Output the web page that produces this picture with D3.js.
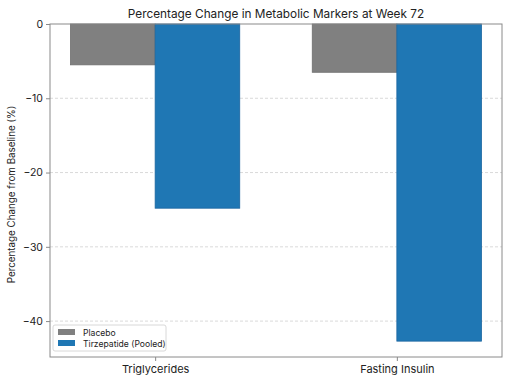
<!DOCTYPE html>
<html>
<head>
<meta charset="utf-8">
<script src="https://cdn.jsdelivr.net/npm/d3@7"></script>
<style>
  body { margin: 0; background: #fff; }
  text { font-family: "Inter", "DejaVu Sans", sans-serif; fill: #222; }
</style>
</head>
<body>
<div id="chart"></div>
<script>
// data
var categories = ["Triglycerides", "Fasting Insulin"];
var seriesNames = ["Placebo", "Tirzepatide (Pooled)"];
var placebo = [-5.5, -6.5];
var tirzepatide = [-24.8, -42.7];
var yTicks = [0, -10, -20, -30, -40];

var width = 512, height = 384;
var margin = { top: 24, right: 10, bottom: 27, left: 50 };
var colors = ["#808080", "#1f77b4"];
var edges = ["#6e6e6e", "#1a65a0"];

var svg = d3.select("#chart").append("svg")
  .attr("width", width)
  .attr("height", height);

var plotW = width - margin.left - margin.right;
var plotH = height - margin.top - margin.bottom;

// x in category units, like matplotlib: bars of width 0.35 at -0.35/+0 offsets
var barW = 0.35;
var xMin = -barW, xMax = categories.length - 1 + barW;
var pad = (xMax - xMin) * 0.05;
var x = d3.scaleLinear().domain([xMin - pad, xMax + pad]).range([margin.left, margin.left + plotW]);

var allVals = placebo.concat(tirzepatide);
var yMin = d3.min(allVals) * 1.05;
var y = d3.scaleLinear().domain([yMin, 0]).range([margin.top + plotH, margin.top]);

// grid
svg.append("g")
  .selectAll("line")
  .data(yTicks.filter(function (d) { return d !== 0; }))
  .enter()
  .append("line")
  .attr("x1", margin.left)
  .attr("x2", margin.left + plotW)
  .attr("y1", function (d) { return y(d); })
  .attr("y2", function (d) { return y(d); })
  .attr("stroke", "#d0d0d0")
  .attr("stroke-width", 0.8)
  .attr("stroke-dasharray", "3,2");

// bars
var series = [placebo, tirzepatide];
series.forEach(function (vals, s) {
  svg.append("g")
    .selectAll("rect")
    .data(vals)
    .enter()
    .append("rect")
    .attr("x", function (d, i) { return x(i - barW + s * barW); })
    .attr("width", x(barW) - x(0))
    .attr("y", y(0))
    .attr("height", function (d) { return y(d) - y(0); })
    .attr("fill", colors[s])
    .attr("stroke", edges[s])
    .attr("stroke-width", 0.8);
});

// frame
svg.append("rect")
  .attr("x", margin.left)
  .attr("y", margin.top)
  .attr("width", plotW)
  .attr("height", plotH)
  .attr("fill", "none")
  .attr("stroke", "#8a8a8a")
  .attr("stroke-width", 1);

// y axis
var yAxis = d3.axisLeft(y).tickValues(yTicks).tickSize(4).tickPadding(3)
  .tickFormat(function (d) { return d === 0 ? "0" : "\u2212" + Math.abs(d); });
var gy = svg.append("g")
  .attr("transform", "translate(" + margin.left + ",0)")
  .call(yAxis);
gy.select(".domain").remove();
gy.selectAll("line").attr("stroke", "#8a8a8a");
gy.selectAll("text").attr("font-size", 10.5).attr("fill", "#222");

// x axis
var xAxis = d3.axisBottom(x).tickValues(d3.range(categories.length)).tickSize(4).tickPadding(4)
  .tickFormat(function (d) { return categories[d]; });
var gx = svg.append("g")
  .attr("transform", "translate(0," + (margin.top + plotH) + ")")
  .call(xAxis);
gx.select(".domain").remove();
gx.selectAll("line").attr("stroke", "#8a8a8a");
gx.selectAll("text").attr("font-size", 11).attr("fill", "#222");

// title
svg.append("text")
  .attr("x", margin.left + plotW / 2)
  .attr("y", 18)
  .attr("text-anchor", "middle")
  .attr("font-size", 11.8)
  .text("Percentage Change in Metabolic Markers at Week 72");

// y label
svg.append("text")
  .attr("transform", "translate(15," + (margin.top + plotH / 2 + 4) + ") rotate(-90)")
  .attr("text-anchor", "middle")
  .attr("font-size", 9.8)
  .text("Percentage Change from Baseline (%)");

// legend
var lg = svg.append("g").attr("transform", "translate(53,325)");
lg.append("rect")
  .attr("width", 113)
  .attr("height", 26)
  .attr("rx", 2)
  .attr("fill", "#fff")
  .attr("fill-opacity", 0.85)
  .attr("stroke", "#d8d8d8");
seriesNames.forEach(function (name, s) {
  lg.append("rect")
    .attr("x", 5)
    .attr("y", 4 + s * 11)
    .attr("width", 17)
    .attr("height", 6)
    .attr("fill", colors[s]);
  lg.append("text")
    .attr("x", 30)
    .attr("y", 10.5 + s * 11)
    .attr("font-size", 8.6)
    .text(name);
});
</script>
</body>
</html>
